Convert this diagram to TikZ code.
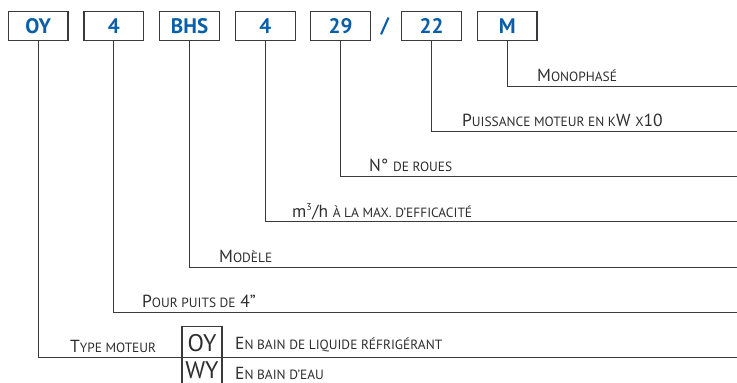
\documentclass[tikz,border=0pt]{standalone}
\usepackage{fontspec}
\setmainfont{PT Sans}
\definecolor{codeblue}{HTML}{0A5EA8}
\definecolor{linegray}{HTML}{3A3A3A}
\newcommand\smc[1]{{\fontsize{13.4pt}{15pt}\selectfont #1}}
\begin{document}
\begin{tikzpicture}[x=1pt,y=-1pt,
  codebox/.style={draw=linegray,line width=1.2pt,minimum width=59.5pt,minimum height=29pt,inner sep=0pt,
    font=\fontsize{21pt}{24pt}\selectfont\bfseries,text=codeblue},
  lead/.style={draw=linegray,line width=0.9pt},
  lbl/.style={anchor=base west,inner sep=0pt,text=linegray!80!black,font=\fontsize{17.5pt}{20pt}\selectfont},
  typ/.style={anchor=base,inner sep=0pt,text=linegray!80!black,font=\fontsize{24pt}{26pt}\selectfont}]
\useasboundingbox (0,0) rectangle (737,383);
% code boxes
\node[codebox] (bOY) at (38.2,26.2) {OY};
\node[codebox] (b4a) at (113.8,26.2) {4};
\node[codebox] (bBHS) at (189.6,26.2) {BHS};
\node[codebox] (b4b) at (265.4,26.2) {4};
\node[codebox] (b29) at (340.6,26.2) {29};
\node[text=codeblue,font=\fontsize{21pt}{24pt}\selectfont\bfseries,inner sep=0pt] (sl) at (385,26.2) {/};
\node[codebox] (b22) at (431.5,26.2) {22};
\node[codebox] (bM) at (507.2,26.2) {M};
% line end points
\coordinate (eM) at (737,86);
\coordinate (e22) at (737,131.3);
\coordinate (e29) at (737,176.6);
\coordinate (e4b) at (737,221.9);
\coordinate (eBHS) at (737,267.2);
\coordinate (e4a) at (737,312.5);
\coordinate (eOY) at (737,357.8);
% leaders
\draw[lead] (bM.south) |- (eM);
\draw[lead] (b22.south) |- (e22);
\draw[lead] (b29.south) |- (e29);
\draw[lead] (b4b.south) |- (e4b);
\draw[lead] (bBHS.south) |- (eBHS);
\draw[lead] (b4a.south) |- (e4a);
\draw[lead] (bOY.south) |- (eOY);
% labels
\node[lbl] (tM) at (537,81.5) {M\smc{ONOPHASÉ}};
\node[lbl] (t22) at (462,126.5) {P\smc{UISSANCE MOTEUR EN K}W \smc{X}10};
\node[lbl] (t29) at (369,171.8) {N° \smc{DE ROUES}};
\node[lbl] (t4b) at (292,217) {m\textsuperscript{\fontsize{10pt}{10pt}\selectfont 3}/h \smc{À LA MAX. D’EFFICACITÉ}};
\node[lbl] (tBHS) at (219,262.3) {M\smc{ODÈLE}};
\node[lbl] (t4a) at (142,307.5) {P\smc{OUR PUITS DE} 4”};
\node[lbl] (tOY) at (70,352) {T\smc{YPE MOTEUR}};
% motor type table
\coordinate (tl) at (182,326.5);
\coordinate (tr) at (222,326.5);
\draw[draw=linegray,line width=1.2pt] (182,395) -- (tl) -- (tr) -- (222,395);
\node[typ] (cOY) at (202,351) {OY};
\node[typ] (cWY) at (202,378.5) {WY};
\node[lbl] (dOY) at (235,349.5) {E\smc{N BAIN DE LIQUIDE RÉFRIGÉRANT}};
\node[lbl] (dWY) at (235,379) {E\smc{N BAIN D’EAU}};
\end{tikzpicture}
\end{document}
